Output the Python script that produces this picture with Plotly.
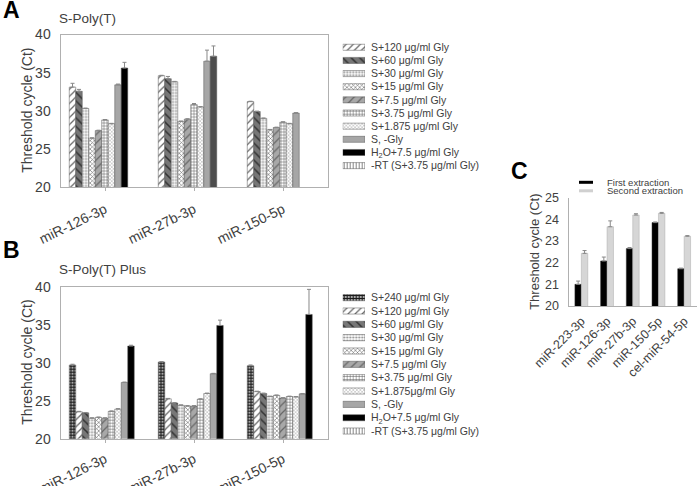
import plotly.graph_objects as go

W, H = 697, 486
FONT = "Liberation Sans, Arial, sans-serif"
TXT = "#404040"

# ---------------- data ----------------
categories_ab = ["miR-126-3p", "miR-27b-3p", "miR-150-5p"]

labels_a = ["S+120 μg/ml Gly", "S+60 μg/ml Gly", "S+30 μg/ml Gly", "S+15 μg/ml Gly",
            "S+7.5 μg/ml Gly", "S+3.75 μg/ml Gly", "S+1.875 μg/ml Gly", "S, -Gly",
            "H<sub>2</sub>O+7.5 μg/ml Gly", "-RT (S+3.75 μg/ml Gly)"]
labels_b = ["S+240 μg/ml Gly", "S+120 μg/ml Gly", "S+60 μg/ml Gly", "S+30 μg/ml Gly",
            "S+15 μg/ml Gly", "S+7.5 μg/ml Gly", "S+3.75 μg/ml Gly", "S+1.875μg/ml Gly",
            "S, -Gly", "H<sub>2</sub>O+7.5 μg/ml Gly", "-RT (S+3.75 μg/ml Gly)"]
y_title = "Threshold cycle (Ct)"

# Panel A: S-Poly(T)
a_s120 = [33.1, 34.6, 31.2]
a_s60 = [32.55, 34.2, 29.9]
a_s30 = [30.3, 33.8, 29.0]
a_s15 = [26.4, 28.6, 27.5]
a_s7_5 = [27.4, 28.9, 27.8]
a_s3_75 = [28.8, 30.8, 28.5]
a_s1_875 = [28.3, 30.5, 28.3]
a_nogly = [33.4, 36.5, 29.7]
a_h2o = [35.6, 37.15, None]
a_rt = [None, None, None]

a_s120_err = [0.5, 0.05, 0.05]
a_s60_err = [0.25, 0.3, 0.05]
a_s30_err = [0.05, 0.05, 0.05]
a_s15_err = [0.05, 0.05, 0.05]
a_s7_5_err = [0.05, 0.05, 0.05]
a_s3_75_err = [0.05, 0.15, 0.05]
a_s1_875_err = [0.05, 0.05, 0.05]
a_nogly_err = [0.1, 1.45, 0.05]
a_h2o_err = [0.75, 1.35, 0]
a_rt_err = [0, 0, 0]

# Panel B: S-Poly(T) Plus
b_s240 = [29.7, 30.1, 29.6]
b_s120 = [23.55, 25.25, 26.2]
b_s60 = [23.4, 24.7, 25.95]
b_s30 = [22.7, 24.4, 25.55]
b_s15 = [22.8, 24.3, 25.7]
b_s7_5 = [22.7, 24.3, 25.35]
b_s3_75 = [23.6, 25.2, 25.55]
b_s1_875 = [23.9, 25.95, 25.5]
b_nogly = [27.4, 28.55, 25.9]
b_h2o = [32.2, 34.9, 36.35]
b_rt = [None, None, None]

b_s240_err = [0.1, 0.05, 0.1]
b_s120_err = [0.05, 0.05, 0.05]
b_s60_err = [0.05, 0.05, 0.05]
b_s30_err = [0.05, 0.05, 0.05]
b_s15_err = [0.05, 0.05, 0.05]
b_s7_5_err = [0.05, 0.05, 0.05]
b_s3_75_err = [0.05, 0.05, 0.05]
b_s1_875_err = [0.05, 0.05, 0.05]
b_nogly_err = [0.05, 0.05, 0.05]
b_h2o_err = [0.1, 0.7, 3.3]
b_rt_err = [0, 0, 0]

# Panel C
categories_c = ["miR-223-3p", "miR-126-3p", "miR-27b-3p", "miR-150-5p", "cel-miR-54-5p"]
c_first = [21.0, 22.08, 22.65, 23.85, 21.72]
c_first_err = [0.15, 0.18, 0.05, 0.03, 0.03]
c_second = [22.43, 23.66, 24.2, 24.28, 23.22]
c_second_err = [0.13, 0.27, 0.06, 0.04, 0.03]
c_names = ["First extraction", "Second extraction"]

# ---------------- styles ----------------
# (shape, bgcolor, fgcolor, size, solidity)
style_b = [
    ("+", "#ffffff", "#1a1a1a", 3, 0.7),   # S+240
    ("/", "#ffffff", "#666666", 5, 0.25),  # S+120
    ("\\", "#777777", "#333333", 6, 0.25), # S+60
    (".", "#ffffff", "#888888", 3, 0.35),  # S+30
    ("x", "#ffffff", "#666666", 3, 0.35),  # S+15
    ("/", "#a8a8a8", "#666666", 6, 0.2),   # S+7.5
    ("+", "#ffffff", "#555555", 3, 0.3),   # S+3.75
    ("x", "#ffffff", "#999999", 2.5, 0.3), # S+1.875
    ("", "#a6a6a6", "#a6a6a6", 3, 0.3),    # S,-Gly
    ("", "#000000", "#000000", 3, 0.3),    # H2O
    ("|", "#ffffff", "#777777", 3, 0.3),   # -RT
]
style_a = style_b[1:]
h2o_colors_a = ["#000000", "#4d4d4d", "#000000"]

def px_x(px):
    return px / W

def px_y(py):
    return 1 - py / H

def make_marker(st, color=None):
    shape, bg, fg, size, sol = st
    marker = dict(color=bg if color is None else color,
                  line=dict(color="#555555", width=0.5))
    if shape:
        marker["pattern"] = dict(shape=shape, bgcolor=bg, fgcolor=fg, size=size,
                                 solidity=sol, fillmode="replace")
    return marker

fig = go.Figure()

def add_group(series, errs, labels, styles, xa, ya, special=None):
    for i, (vals, err, lab, st) in enumerate(zip(series, errs, labels, styles)):
        color = special[1] if (special is not None and special[0] == i) else None
        fig.add_trace(go.Bar(
            x=categories_ab, y=vals, name=lab, showlegend=False,
            marker=make_marker(st, color), xaxis=xa, yaxis=ya,
            error_y=dict(type="data", symmetric=False, array=err,
                         arrayminus=[0] * len(err), color="#888888",
                         thickness=1, width=2),
        ))

series_a = [a_s120, a_s60, a_s30, a_s15, a_s7_5, a_s3_75, a_s1_875, a_nogly, a_h2o, a_rt]
errs_a = [a_s120_err, a_s60_err, a_s30_err, a_s15_err, a_s7_5_err, a_s3_75_err,
          a_s1_875_err, a_nogly_err, a_h2o_err, a_rt_err]
add_group(series_a, errs_a, labels_a, style_a, "x", "y", special=(8, h2o_colors_a))
# empty eleventh slot, as in the original layout
fig.add_trace(go.Bar(x=categories_ab, y=[None, None, None], showlegend=False,
                     xaxis="x", yaxis="y", marker=dict(color="white")))

series_b = [b_s240, b_s120, b_s60, b_s30, b_s15, b_s7_5, b_s3_75, b_s1_875, b_nogly, b_h2o, b_rt]
errs_b = [b_s240_err, b_s120_err, b_s60_err, b_s30_err, b_s15_err, b_s7_5_err, b_s3_75_err,
          b_s1_875_err, b_nogly_err, b_h2o_err, b_rt_err]
add_group(series_b, errs_b, labels_b, style_b, "x2", "y2")

# Panel C bars
fig.add_trace(go.Bar(x=categories_c, y=c_first, name=c_names[0], showlegend=False,
                     width=0.25, offset=-0.25, xaxis="x3", yaxis="y3",
                     marker=dict(color="#000000", line=dict(color="#333333", width=0.5)),
                     error_y=dict(type="data", symmetric=False, array=c_first_err,
                                  arrayminus=[0] * 5, color="#888888", thickness=1, width=2)))
fig.add_trace(go.Bar(x=categories_c, y=c_second, name=c_names[1], showlegend=False,
                     width=0.25, offset=0, xaxis="x3", yaxis="y3",
                     marker=dict(color="#d6d6d6", line=dict(color="#aaaaaa", width=0.5)),
                     error_y=dict(type="data", symmetric=False, array=c_second_err,
                                  arrayminus=[0] * 5, color="#888888", thickness=1, width=2)))

# Legend swatches: one small horizontal bar per entry in its own mini axes
def add_legend(labels, styles, xa, ya):
    for lab, st in zip(labels, styles):
        fig.add_trace(go.Bar(
            orientation="h", y=[lab], x=[1], width=0.46, offset=-0.23,
            showlegend=False, xaxis=xa, yaxis=ya, hoverinfo="skip",
            marker=make_marker(st),
        ))

add_legend(labels_a, style_a, "x4", "y4")
add_legend(labels_b, style_b, "x5", "y5")

# ---------------- layout ----------------
tick_font = dict(family=FONT, size=14, color=TXT)

def ab_xaxis(anchor, standoff):
    return dict(domain=[px_x(60.5), px_x(327.5)], anchor=anchor, type="category",
                automargin=False,
                showline=True, linecolor="#b0b0b0", linewidth=1, mirror=True,
                ticks="outside", ticklen=3, tickcolor="#b0b0b0", ticklabelstandoff=standoff,
                tickangle=-26, tickfont=tick_font, showgrid=False, zeroline=False)

def ab_yaxis(anchor, top, bottom):
    return dict(domain=[px_y(bottom), px_y(top)], anchor=anchor, range=[20, 40],
                automargin=False,
                tickvals=[20, 25, 30, 35, 40], showline=True, linecolor="#b0b0b0",
                linewidth=1, mirror=True, ticks="", ticklabelstandoff=6,
                tickfont=dict(family=FONT, size=14, color=TXT), showgrid=False,
                zeroline=False)

def legend_yaxis(anchor, top, bottom, labels):
    return dict(domain=[px_y(bottom), px_y(top)], anchor=anchor, type="category",
                categoryorder="array", categoryarray=labels,
                automargin=False, autorange="reversed", side="right", showline=False,
                ticks="", tickmode="array", tickvals=labels, ticktext=labels,
                showgrid=False, zeroline=False, ticklabelstandoff=5,
                tickfont=dict(family=FONT, size=10.5, color=TXT))

fig.update_layout(
    template="none",
    width=W, height=H, autosize=False,
    margin=dict(l=0, r=0, t=0, b=0, pad=0),
    paper_bgcolor="white", plot_bgcolor="white",
    barmode="group", bargap=0.197, bargroupgap=0,
    font=dict(family=FONT, color=TXT),
    xaxis=ab_xaxis("y", 5),
    yaxis=ab_yaxis("x", 34.5, 187),
    xaxis2=ab_xaxis("y2", 3),
    yaxis2=ab_yaxis("x2", 286.7, 438.7),
    xaxis3=dict(domain=[px_x(568.5), 1.0], anchor="y3", type="category",
                automargin=False,
                range=[-0.5, 4.5], showline=True, linecolor="#b0b0b0", linewidth=1,
                ticks="", tickangle=-45, tickmode="array", tickvals=categories_c,
                ticktext=categories_c, ticklabelstandoff=2,
                tickfont=dict(family=FONT, size=12.5, color=TXT), showgrid=False,
                zeroline=False),
    yaxis3=dict(domain=[px_y(306), px_y(197.7)], anchor="x3", range=[20, 25],
                automargin=False,
                tickvals=[20, 21, 22, 23, 24, 25], showline=True, linecolor="#b0b0b0",
                linewidth=1, ticks="", ticklabelstandoff=6,
                tickfont=dict(family=FONT, size=12.5, color=TXT), showgrid=False,
                zeroline=False),
    xaxis4=dict(domain=[px_x(342.7), px_x(365)], anchor="y4", range=[0, 1],
                visible=False, automargin=False),
    yaxis4=legend_yaxis("x4", 40.7, 172.2, labels_a),
    xaxis5=dict(domain=[px_x(342.7), px_x(365)], anchor="y5", range=[0, 1],
                visible=False, automargin=False),
    yaxis5=legend_yaxis("x5", 291, 437.7, labels_b),
)

def note(text, x, y, size, bold=False, anchor="left", angle=0):
    fig.add_annotation(text=f"<b>{text}</b>" if bold else text, x=px_x(x), y=px_y(y),
                       xref="paper", yref="paper", xanchor=anchor, yanchor="middle",
                       showarrow=False, textangle=angle,
                       font=dict(family=FONT, size=size, color="#000000" if bold else TXT))

note("A", 1, 10, 23, bold=True)
note("S-Poly(T)", 57, 19, 13.5)
note("B", 1, 250, 23, bold=True)
note("S-Poly(T) Plus", 57, 269, 13.5)
note("C", 509, 171, 23, bold=True)

# axis titles
note(y_title, 27, (34.5 + 187) / 2, 14, anchor="center", angle=-90)
note(y_title, 27, (286.7 + 438.7) / 2, 14, anchor="center", angle=-90)
note(y_title, 535, (197.7 + 306) / 2, 13, anchor="center", angle=-90)

# Panel C legend
fig.add_shape(type="line", xref="paper", yref="paper", x0=px_x(579), x1=px_x(593),
              y0=px_y(182.3), y1=px_y(182.3), line=dict(color="#000000", width=3))
fig.add_shape(type="line", xref="paper", yref="paper", x0=px_x(579), x1=px_x(593),
              y0=px_y(190.8), y1=px_y(190.8), line=dict(color="#d0d0d0", width=3))
note(c_names[0], 605, 182.3, 9.5)
note(c_names[1], 605, 190.8, 9.5)

fig.write_html("out.html", config={"displayModeBar": False},
               post_script="document.body.style.margin='0';document.body.style.padding='0';")
